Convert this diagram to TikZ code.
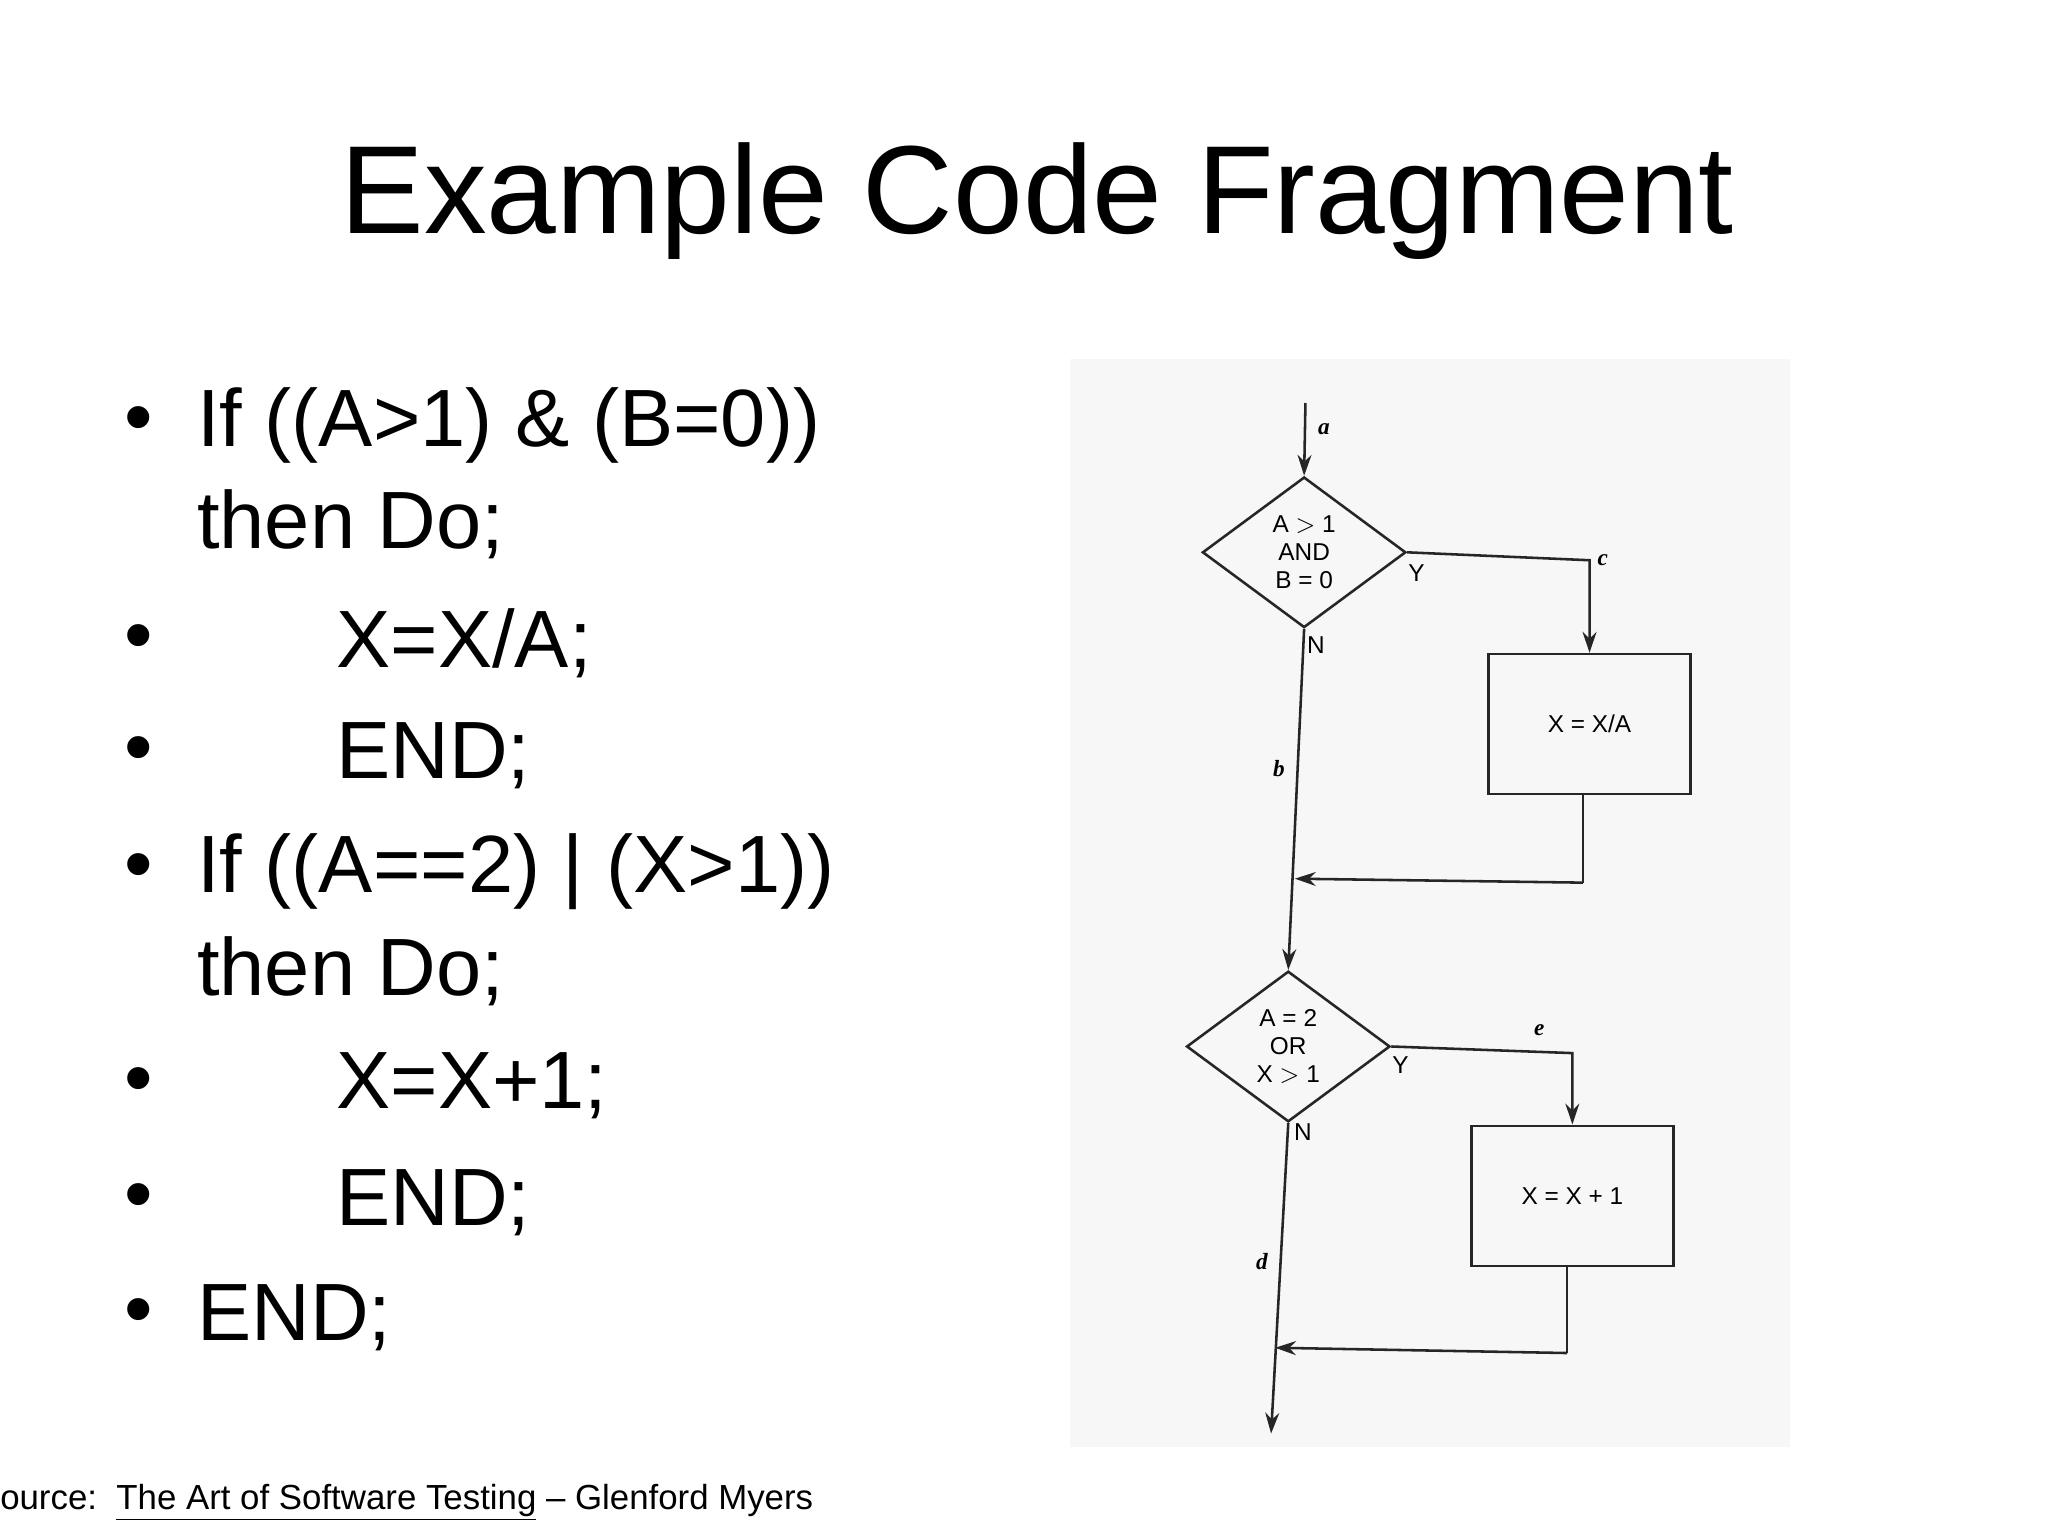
\documentclass[tikz,border=0pt]{standalone}
\usepackage{fontspec}
\setmainfont{Liberation Sans}
\newfontfamily\lserif{Liberation Serif}
\usetikzlibrary{shapes.geometric,arrows.meta}
\begin{document}
\begin{tikzpicture}[x=0.02cm,y=-0.02cm,
  bul/.style={anchor=west,font=\fontsize{35}{40}\selectfont},
  fl/.style={draw=black!85,line width=1.1pt},
  arr/.style={fl,-{Stealth[length=9pt,width=6pt]}},
  dia/.style={diamond,draw=black!85,line width=1.1pt,minimum width=3.08cm,minimum height=2.28cm,inner sep=0pt,align=center,font=\fontsize{10.5}{12}\selectfont},
  box/.style={draw=black!85,line width=1.1pt,minimum width=3.06cm,minimum height=2.12cm,font=\fontsize{10.5}{12}\selectfont},
  lab/.style={font=\lserif\itshape\bfseries\fontsize{10}{10}\selectfont},
  yn/.style={font=\fontsize{10.5}{10}\selectfont}]
\useasboundingbox (0,0) rectangle (1550,1162.5);
\fill[black!3] (810,272) rectangle (1355,1095);
\node[font=\fontsize{54}{60}\selectfont] (title) at (785,152) {Example Code Fragment};
\foreach \y/\t [count=\i] in {322/{If ((A>1) \& (B=0))},397/{then Do;},487/{\hspace{60pt}X=X/A;},572/{\hspace{60pt}END;},660/{If ((A==2) | (X>1))},735/{then Do;},822/{\hspace{60pt}X=X+1;},910/{\hspace{60pt}END;},997/{END;}}
  \node[bul] (l\i) at (143,\y) {\t};
\foreach \y [count=\i] in {322,487,572,660,822,910,997}
  \node[font=\fontsize{35}{40}\selectfont] (b\i) at (105,\y) {\textbullet};
\node[anchor=west,font=\fontsize{15}{16}\selectfont] (src) at (-6,1137) {ource:\ \ \underline{The Art of Software Testing} -- Glenford Myers};
% flowchart
\coordinate (start) at (988,305);
\node[dia] (d1) at (987,418) {A $>$ 1\\AND\\B = 0};
\node[box] (x1) at (1203,548) {X = X/A};
\node[dia] (d2) at (975,792) {A = 2\\OR\\X $>$ 1};
\node[box] (x2) at (1190,905) {X = X + 1};
\coordinate (j1) at (980,665);
\coordinate (j2) at (965,1020);
\coordinate (end) at (962,1085);
\draw[arr] (start) -- (d1.north);
\draw[arr] (d1.east) -- (1203,424) -- (x1.north);
\draw[fl] (1198,602) -- (1198,668);
\draw[arr] (1198,668) -- (j1);
\draw[arr] (d1.south) -- (d2.north);
\draw[arr] (d2.east) -- (1190,797) -- (x2.north);
\draw[fl] (1186,958) -- (1186,1024);
\draw[arr] (1186,1024) -- (j2);
\draw[arr] (d2.south) -- (end);
\node[lab] (la) at (1002,325) {a};
\node[lab] (lb) at (968,582) {b};
\node[lab] (lc) at (1213,424) {c};
\node[lab] (ld) at (955,955) {d};
\node[lab] (le) at (1165,780) {e};
\node[yn] (y1) at (1072,434) {Y};
\node[yn] (n1) at (996,488) {N};
\node[yn] (y2) at (1060,806) {Y};
\node[yn] (n2) at (986,857) {N};
\end{tikzpicture}
\end{document}
